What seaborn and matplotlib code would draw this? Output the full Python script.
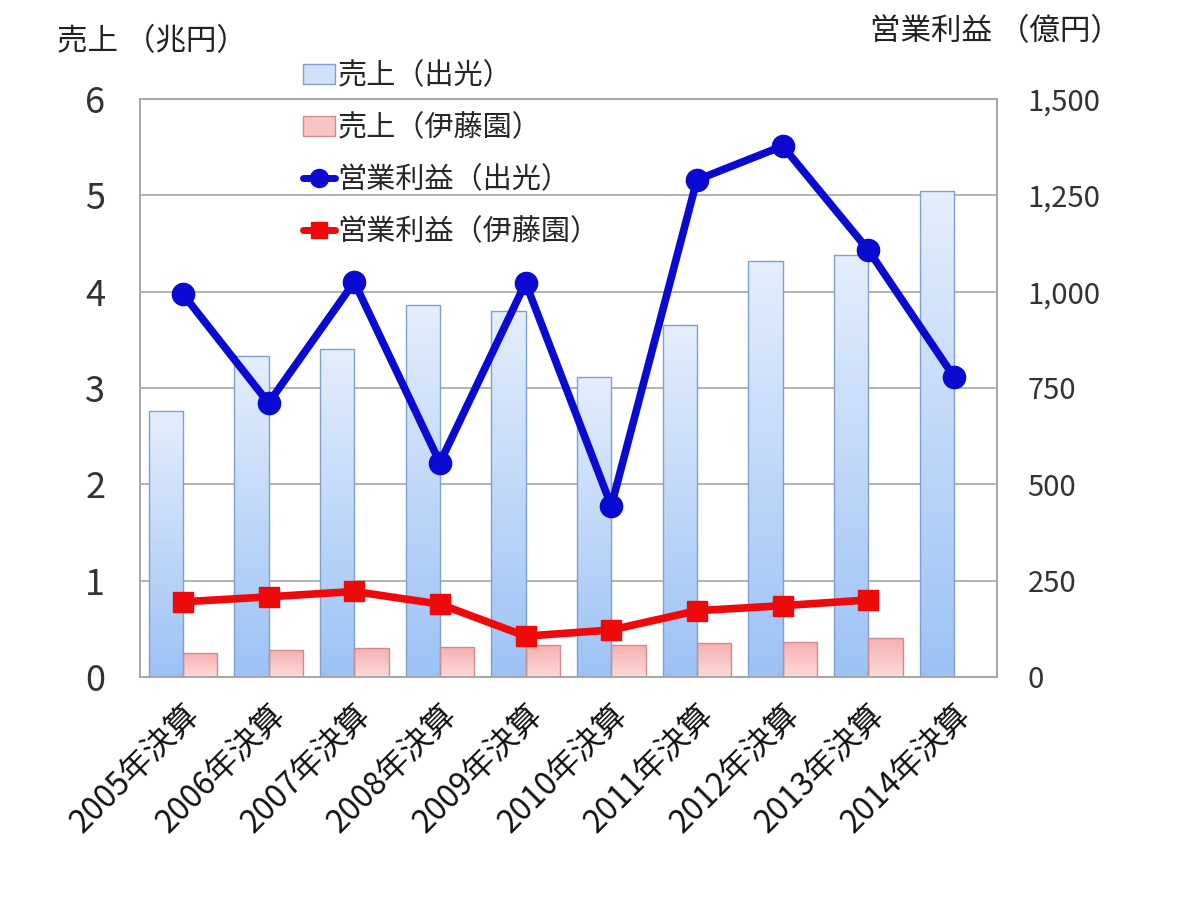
import numpy as np
import pandas as pd
import seaborn as sns
import matplotlib.pyplot as plt
from matplotlib.patches import Patch
from matplotlib.lines import Line2D
from matplotlib.colors import LinearSegmentedColormap

# data
years = ['2005年決算', '2006年決算', '2007年決算', '2008年決算', '2009年決算',
         '2010年決算', '2011年決算', '2012年決算', '2013年決算', '2014年決算']
sales_idemitsu = [2.76, 3.33, 3.40, 3.86, 3.80, 3.11, 3.65, 4.32, 4.38, 5.04]   # 兆円
sales_itoen = [0.25, 0.28, 0.30, 0.31, 0.33, 0.33, 0.35, 0.36, 0.40, np.nan]    # 兆円
profit_idemitsu = [994, 711, 1025, 556, 1023, 444, 1290, 1378, 1108, 779]       # 億円
profit_itoen = [195, 208, 222, 189, 106, 122, 172, 185, 200, np.nan]            # 億円

series_names = ['売上（出光）', '売上（伊藤園）', '営業利益（出光）', '営業利益（伊藤園）']

sns.set_theme(style='white')
plt.rcParams['font.family'] = ['Noto Sans CJK JP', 'DejaVu Sans']

df = pd.DataFrame({
    'year': years * 2,
    'sales': sales_idemitsu + sales_itoen,
    'company': [series_names[0]] * len(years) + [series_names[1]] * len(years),
})

fig = plt.figure(figsize=(12, 9), dpi=100)
ax = fig.add_axes([0.1167, 0.2478, 0.714, 0.6422])

sns.barplot(data=df, x='year', y='sales', hue='company', ax=ax,
            palette=['#bcd5f8', '#f9c4c4'], width=0.8, legend=False,
            edgecolor='#7f9fcc', linewidth=1.0, zorder=2)

# gradient fill inside each bar
grad_blue = LinearSegmentedColormap.from_list('gb', ['#9cc2f5', '#e4eefc'])
grad_pink = LinearSegmentedColormap.from_list('gp', ['#fdd9d9', '#f6b0b0'])
grad = np.linspace(0, 1, 256).reshape(-1, 1)
n = len(years)
for i, p in enumerate(ax.patches):
    h = p.get_height()
    if not np.isfinite(h) or h <= 0:
        continue
    x0 = p.get_x()
    w = p.get_width()
    cmap = grad_blue if i < n else grad_pink
    p.set_edgecolor('#7f9fcc' if i < n else '#c98e8e')
    im = ax.imshow(grad, cmap=cmap, extent=[x0, x0 + w, 0, h], origin='lower',
                   aspect='auto', zorder=2, interpolation='bicubic')
    im.set_clip_path(p)
    p.set_facecolor('none')
    p.set_zorder(3)

ax.set_xlim(-0.5, n - 0.5)
ax.set_ylim(0, 6)
ax.set_yticks(range(0, 7))
ax.yaxis.grid(True, color='#a6a6a6', linewidth=1.2, zorder=0)
ax.set_axisbelow(True)
for s in ax.spines.values():
    s.set_color('#a6a6a6')
    s.set_linewidth(1.2)
ax.set_xlabel('')
ax.set_ylabel('')
ax.tick_params(axis='y', length=0, pad=25, labelsize=26, labelcolor='#333333')
ax.tick_params(axis='x', length=0, pad=15, labelsize=23, labelcolor='#111111')
plt.setp(ax.get_xticklabels(), rotation=45, ha='right', rotation_mode='anchor')

# operating profit on the right axis
ax2 = ax.twinx()
xpos = np.arange(n)
ax2.plot(xpos, profit_idemitsu, color='#0a0ad2', linewidth=5.5, marker='o',
         markersize=16, zorder=5)
ax2.plot(xpos, profit_itoen, color='#ee0a0a', linewidth=5.5, marker='s',
         markersize=15, zorder=5)
ax2.set_ylim(0, 1500)
ax2.set_yticks(range(0, 1501, 250))
ax2.set_yticklabels([f'{v:,}' for v in range(0, 1501, 250)])
ax2.tick_params(axis='y', length=0, pad=22, labelsize=21, labelcolor='#333333')
for s in ax2.spines.values():
    s.set_color('#a6a6a6')
    s.set_linewidth(1.2)
ax2.grid(False)

fig.text(57 / 1200, 1 - 42 / 900, '売上 （兆円）', fontsize=22, color='#222222',
         ha='left', va='center')
fig.text(870 / 1200, 1 - 32 / 900, '営業利益 （億円）', fontsize=22, color='#222222',
         ha='left', va='center')

handles = [
    Patch(facecolor='#cfe0f9', edgecolor='#7f9fcc'),
    Patch(facecolor='#f9c4c4', edgecolor='#c98e8e'),
    Line2D([], [], color='#0a0ad2', linewidth=5, marker='o', markersize=13),
    Line2D([], [], color='#ee0a0a', linewidth=5, marker='s', markersize=12),
]
ax2.legend(handles, series_names, loc='upper left', bbox_to_anchor=(0.24, 0.948),
           bbox_transform=fig.transFigure, frameon=False, fontsize=21,
           handlelength=1.1, handletextpad=0.1, labelspacing=0.75, borderpad=0)

fig.savefig('out.png', dpi=100)
